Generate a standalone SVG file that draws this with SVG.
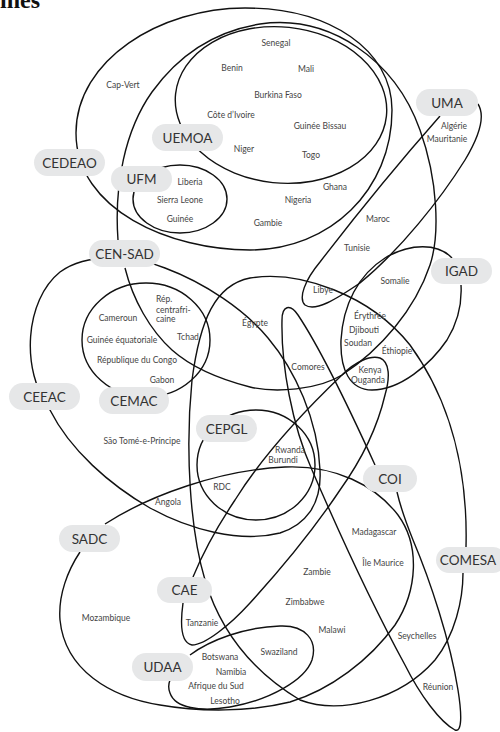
<svg xmlns="http://www.w3.org/2000/svg" width="500" height="732" viewBox="0 0 500 732">
<style>
.c{fill:none;stroke:#111;stroke-width:1.4}
.lb{fill:#e6e7e8}
.lt{font-family:Lato,"Noto Sans",sans-serif;font-size:13.5px;fill:#333;text-anchor:middle}
.t{font-family:Lato,"Noto Sans",sans-serif;font-size:8.5px;fill:#444;text-anchor:middle}
.tl{font-family:Lato,"Noto Sans",sans-serif;font-size:8.5px;fill:#444}
</style>
<rect width="500" height="732" fill="#fff"/>
<text x="0" y="8" font-family="Liberation Serif,serif" font-weight="bold" font-size="24" fill="#111">ines</text>
<g id="connectors">
<path id="cedeao-line" class="c" d="M76,133 C76,60 160,8 245,8 C330,8 392,50 392,110 C392,190 330,250 250,250 C170,250 76,210 76,133 Z"/>
<ellipse id="uemoa-line" class="c" cx="281" cy="105" rx="106" ry="78" transform="rotate(6 281 105)"/>
<ellipse id="ufm-line" class="c" cx="180" cy="199" rx="47" ry="34"/>
<path id="censad-line" class="c" d="M118,240 C114,185 125,130 152,92 C175,60 210,32 260,24 C330,14 395,60 420,130 C438,180 440,235 430,265 C415,310 380,350 342,375 C318,390 275,393 250,387 C215,378 190,366 172,350 C150,330 133,300 125,268"/>
<path id="uma-line" class="c" d="M478,104 C485,115 480,135 465,160 C440,200 400,250 360,283 C335,300 315,312 305,305 C298,298 305,280 320,262 C360,210 410,150 440,116"/>
<path id="igad-line" class="c" d="M452,258 C438,243 410,243 385,258 C358,275 343,305 341,340 C340,370 350,390 372,390 C400,390 430,365 447,340 C458,322 462,302 461,285"/>
<ellipse id="cemac-line" class="c" cx="146" cy="340" rx="64" ry="57"/>
<path id="ceeac-line" class="c" d="M50,410 C20,370 25,300 60,272 C90,250 140,258 165,268 C205,283 245,310 268,338 C295,370 318,420 320,470 C322,505 305,525 280,533 C240,543 190,530 150,508 C110,485 70,450 50,410 Z"/>
<ellipse id="cepgl-line" class="c" cx="256" cy="465" rx="59" ry="55"/>
<path id="comesa-line" class="c" d="M466,547 C468,470 450,400 410,345 C370,295 300,270 250,278 C215,285 200,320 192,380 C185,450 190,530 205,580 C220,630 250,670 300,700 C340,715 400,700 435,660 C455,635 463,600 463,573"/>
<path id="coi-line" class="c" d="M375,465 C350,410 318,345 298,315 C290,303 282,306 282,320 C281,365 292,425 312,470 C340,535 375,610 405,665 C420,695 440,722 455,730 C462,733 462,715 458,690 C450,640 430,580 413,540 C405,520 400,505 397,492"/>
<path id="sadc-line" class="c" d="M105,524 C150,495 220,470 285,467 C335,465 375,485 398,515 C420,545 418,590 395,625 C370,660 330,690 290,702 C250,712 200,712 160,705 C110,697 65,670 60,620 C58,595 68,570 80,552"/>
<path id="cae-line" class="c" d="M193,577 C200,560 215,530 235,500 C260,460 300,415 342,375 C355,362 370,355 380,358 C390,362 390,378 385,395 C378,425 365,455 340,490 C310,535 280,570 250,603 C230,625 205,645 192,645 C181,643 180,625 183,603"/>
<path id="udaa-line" class="c" d="M190,655 C210,640 245,627 280,626 C305,625 318,640 312,660 C305,680 270,700 230,707 C200,712 175,708 170,693 C168,688 168,685 170,680"/>
</g>
<g id="countries">
<text class="t" x="276" y="46">Senegal</text>
<text class="t" x="232" y="71">Benin</text>
<text class="t" x="306" y="72">Mali</text>
<text class="t" x="123" y="88">Cap-Vert</text>
<text class="t" x="278" y="98">Burkina Faso</text>
<text class="t" x="231" y="118">Côte d’Ivoire</text>
<text class="t" x="320" y="129">Guinée Bissau</text>
<text class="t" x="244" y="152">Niger</text>
<text class="t" x="311" y="158">Togo</text>
<text class="t" x="454" y="129">Algérie</text>
<text class="t" x="447" y="142">Mauritanie</text>
<text class="t" x="190" y="185">Liberia</text>
<text class="t" x="335" y="190">Ghana</text>
<text class="t" x="298" y="203">Nigeria</text>
<text class="t" x="180" y="203">Sierra Leone</text>
<text class="t" x="378" y="222">Maroc</text>
<text class="t" x="180" y="222">Guinée</text>
<text class="t" x="268" y="226">Gambie</text>
<text class="t" x="357" y="251">Tunisie</text>
<text class="t" x="395" y="284">Somalie</text>
<text class="t" x="323" y="293">Libye</text>
<text class="tl" x="156" y="302">Rép.</text>
<text class="tl" x="156" y="313">centrafri-</text>
<text class="tl" x="156" y="322">caine</text>
<text class="t" x="118" y="321">Cameroun</text>
<text class="t" x="255" y="326">Égypte</text>
<text class="t" x="370" y="319">Érythrée</text>
<text class="t" x="364" y="333">Djibouti</text>
<text class="t" x="188" y="340">Tchad</text>
<text class="t" x="122" y="343">Guinée équatoriale</text>
<text class="t" x="358" y="346">Soudan</text>
<text class="t" x="397" y="354">Éthiopie</text>
<text class="t" x="137" y="363">République du Congo</text>
<text class="t" x="308" y="370">Comores</text>
<text class="t" x="370" y="373">Kenya</text>
<text class="t" x="162" y="383">Gabon</text>
<text class="t" x="368" y="383">Ouganda</text>
<text class="t" x="142" y="444">São Tomé-e-Príncipe</text>
<text class="t" x="290" y="453">Rwanda</text>
<text class="t" x="283" y="463">Burundi</text>
<text class="t" x="222" y="490">RDC</text>
<text class="t" x="168" y="505">Angola</text>
<text class="t" x="374" y="535">Madagascar</text>
<text class="t" x="383" y="566">Île Maurice</text>
<text class="t" x="317" y="575">Zambie</text>
<text class="t" x="305" y="605">Zimbabwe</text>
<text class="t" x="106" y="621">Mozambique</text>
<text class="t" x="202" y="626">Tanzanie</text>
<text class="t" x="332" y="633">Malawi</text>
<text class="t" x="417" y="639">Seychelles</text>
<text class="t" x="279" y="655">Swaziland</text>
<text class="t" x="220" y="660">Botswana</text>
<text class="t" x="231" y="675">Namibia</text>
<text class="t" x="216" y="689">Afrique du Sud</text>
<text class="t" x="438" y="690">Réunion</text>
<text class="t" x="225" y="704">Lesotho</text>
</g>
<g id="UEMOA"><rect class="lb" x="152" y="124" width="71" height="27" rx="13.5"/><text class="lt" x="187.5" y="142.5">UEMOA</text></g>
<g id="CEDEAO"><rect class="lb" x="34" y="149" width="71" height="27" rx="13.5"/><text class="lt" x="69.5" y="167.5">CEDEAO</text></g>
<g id="UFM"><rect class="lb" x="111" y="166" width="61" height="26" rx="13"/><text class="lt" x="141.5" y="184">UFM</text></g>
<g id="UMA"><rect class="lb" x="416" y="89" width="62" height="27" rx="13.5"/><text class="lt" x="447" y="107.5">UMA</text></g>
<g id="CEN-SAD"><rect class="lb" x="89" y="240" width="71" height="27" rx="13.5"/><text class="lt" x="124.5" y="258.5">CEN-SAD</text></g>
<g id="IGAD"><rect class="lb" x="431" y="258" width="61" height="26" rx="13"/><text class="lt" x="461.5" y="276">IGAD</text></g>
<g id="CEEAC"><rect class="lb" x="9" y="383" width="71" height="27" rx="13.5"/><text class="lt" x="44.5" y="401.5">CEEAC</text></g>
<g id="CEMAC"><rect class="lb" x="99" y="387" width="70" height="27" rx="13.5"/><text class="lt" x="134" y="405.5">CEMAC</text></g>
<g id="CEPGL"><rect class="lb" x="196" y="415" width="61" height="27" rx="13.5"/><text class="lt" x="226.5" y="433.5">CEPGL</text></g>
<g id="COI"><rect class="lb" x="363" y="465" width="54" height="27" rx="13.5"/><text class="lt" x="390" y="483.5">COI</text></g>
<g id="SADC"><rect class="lb" x="59" y="525" width="61" height="27" rx="13.5"/><text class="lt" x="89.5" y="543.5">SADC</text></g>
<g id="COMESA"><rect class="lb" x="436" y="547" width="70" height="26" rx="13"/><text class="lt" x="468" y="565">COMESA</text></g>
<g id="CAE"><rect class="lb" x="157" y="577" width="55" height="26" rx="13"/><text class="lt" x="184.5" y="595">CAE</text></g>
<g id="UDAA"><rect class="lb" x="132" y="653" width="61" height="28" rx="14"/><text class="lt" x="162.5" y="672">UDAA</text></g>
</svg>
